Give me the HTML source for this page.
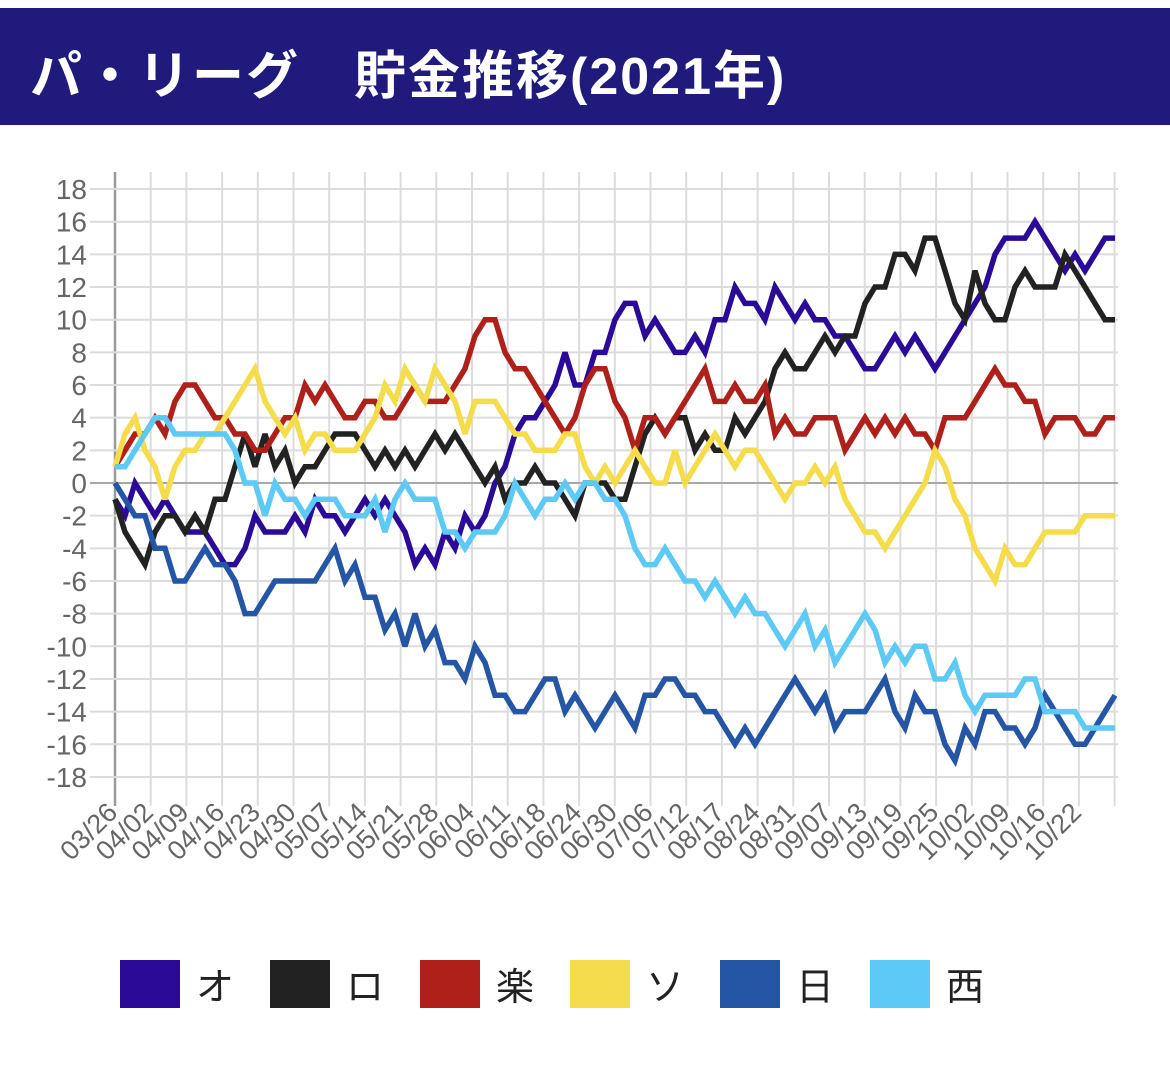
<!DOCTYPE html>
<html><head><meta charset="utf-8">
<style>
body{margin:0;width:1170px;height:1065px;background:#fff;overflow:hidden;font-family:"Liberation Sans","Noto Sans CJK JP",sans-serif}
#hdr{position:absolute;left:0;top:8px;width:1170px;height:117px;background:#201a7c}
#hdr h1{margin:0;position:absolute;left:30px;top:26px;color:#fff;font-size:52px;font-weight:bold;letter-spacing:2px;white-space:nowrap;font-family:"Liberation Sans","Noto Sans CJK JP",sans-serif}
svg{position:absolute;left:0;top:0}
</style></head><body>
<div id="hdr"><h1>パ・リーグ　貯金推移(2021年)</h1></div>
<svg id="c" width="1170" height="1065"></svg>
<script>
const yTicks=[18,16,14,12,10,8,6,4,2,0,-2,-4,-6,-8,-10,-12,-14,-16,-18];
const dateLabels=["03/26","04/02","04/09","04/16","04/23","04/30","05/07","05/14","05/21","05/28","06/04","06/11","06/18","06/24","06/30","07/06","07/12","08/17","08/24","08/31","09/07","09/13","09/19","09/25","10/02","10/09","10/16","10/22"];
const teams=["オ","ロ","楽","ソ","日","西"];
const colors=["#2b0a97","#222222","#b0201a","#f5dc4a","#2555a5","#5ccaf5"];
const orix=[-1,-2,0,-1,-2,-1,-2,-3,-3,-3,-4,-5,-5,-4,-2,-3,-3,-3,-2,-3,-1,-2,-2,-3,-2,-1,-2,-1,-2,-3,-5,-4,-5,
-3,-4,-2,-3,-2,0,1,3,4,4,5,6,8,6,6,8,8,10,11,11,9,10,9,8,8,9,8,10,10,12,11,11,10,12,
11,10,11,10,10,9,9,8,7,7,8,9,8,9,8,7,8,9,10,11,12,14,15,15,15,16,15,14,13,14,13,14,15,15];
const lotte=[-1,-3,-4,-5,-3,-2,-2,-3,-2,-3,-1,-1,1,3,1,3,1,2,0,1,1,2,3,3,3,2,1,2,1,2,1,2,3,
2,3,2,1,0,1,-1,0,0,1,0,0,-1,-2,0,0,0,-1,-1,1,3,4,3,4,4,2,3,2,2,4,3,4,5,7,
8,7,7,8,9,8,9,9,11,12,12,14,14,13,15,15,13,11,10,13,11,10,10,12,13,12,12,12,14,13,12,11,10,10];
const rakuten=[1,2,3,3,4,3,5,6,6,5,4,4,3,3,2,2,3,4,4,6,5,6,5,4,4,5,5,4,4,5,6,5,5,
5,6,7,9,10,10,8,7,7,6,5,4,3,4,6,7,7,5,4,2,4,4,3,4,5,6,7,5,5,6,5,5,6,3,
4,3,3,4,4,4,2,3,4,3,4,3,4,3,3,2,4,4,4,5,6,7,6,6,5,5,3,4,4,4,3,3,4,4];
const softbank=[1,3,4,2,1,-1,1,2,2,3,3,4,5,6,7,5,4,3,4,2,3,3,2,2,2,3,4,6,5,7,6,5,7,
6,5,3,5,5,5,4,3,3,2,2,2,3,3,1,0,1,0,1,2,1,0,0,2,0,1,2,3,2,1,2,2,1,0,
-1,0,0,1,0,1,-1,-2,-3,-3,-4,-3,-2,-1,0,2,1,-1,-2,-4,-5,-6,-4,-5,-5,-4,-3,-3,-3,-3,-2,-2,-2,-2];
const nipponham=[0,-1,-2,-2,-4,-4,-6,-6,-5,-4,-5,-5,-6,-8,-8,-7,-6,-6,-6,-6,-6,-5,-4,-6,-5,-7,-7,-9,-8,-10,-8,-10,-9,
-11,-11,-12,-10,-11,-13,-13,-14,-14,-13,-12,-12,-14,-13,-14,-15,-14,-13,-14,-15,-13,-13,-12,-12,-13,-13,-14,-14,-15,-16,-15,-16,-15,-14,
-13,-12,-13,-14,-13,-15,-14,-14,-14,-13,-12,-14,-15,-13,-14,-14,-16,-17,-15,-16,-14,-14,-15,-15,-16,-15,-13,-14,-15,-16,-16,-15,-14,-13];
const seibu=[1,1,2,3,4,4,3,3,3,3,3,3,2,0,0,-2,0,-1,-1,-2,-1,-1,-1,-2,-2,-2,-1,-3,-1,0,-1,-1,-1,
-3,-3,-4,-3,-3,-3,-2,0,-1,-2,-1,-1,0,-1,0,0,-1,-1,-2,-4,-5,-5,-4,-5,-6,-6,-7,-6,-7,-8,-7,-8,-8,-9,
-10,-9,-8,-10,-9,-11,-10,-9,-8,-9,-11,-10,-11,-10,-10,-12,-12,-11,-13,-14,-13,-13,-13,-13,-12,-12,-14,-14,-14,-14,-15,-15,-15,-15];
const series=[orix,lotte,rakuten,softbank,nipponham,seibu];

const NS="http://www.w3.org/2000/svg";
const svg=document.getElementById('c');
const X0=115,X1=1115,Y0=483,UNIT=16.33;
const nPts=orix.length;
function xScale(i){return X0+i*(X1-X0)/(nPts-1);}
function yScale(v){return Y0-v*UNIT;}
const TICKSTEP=35.7;
function mk(tag,attrs){const e=document.createElementNS(NS,tag);for(const k in attrs)e.setAttribute(k,attrs[k]);svg.appendChild(e);return e;}

for(let i=0;i<=28;i++){
  const x=X0+i*TICKSTEP;
  const g=mk('line',{x1:x,x2:x,y1:172,y2:806,stroke:i===0?'#9a9a9a':'#dcdcdc','stroke-width':i===0?2.5:2});
  
  
}
yTicks.forEach(v=>{
  const y=yScale(v);
  const l=mk('line',{x1:90,x2:1118,y1:y,y2:y,stroke:v===0?'#a8a8a8':'#dcdcdc','stroke-width':2});
  
  
  const t=mk('text',{x:87,y:y+10,'text-anchor':'end','font-size':28,fill:'#666','font-family':'Liberation Sans, sans-serif'});
  t.textContent=v;
  
  
});
dateLabels.forEach((d,i)=>{
  const x=X0+i*TICKSTEP+4,y=814;
  const t=mk('text',{x:x,y:y,'text-anchor':'end','font-size':27,fill:'#666','font-family':'Liberation Sans, sans-serif',transform:`rotate(-45 ${x} ${y})`});
  t.textContent=d;
  
  
});
series.forEach((s,k)=>{
  const pts=s.map((v,i)=>xScale(i).toFixed(1)+','+yScale(v).toFixed(1)).join(' ');
  const p=mk('polyline',{points:pts,fill:'none',stroke:colors[k],'stroke-width':5.5,'stroke-linejoin':'miter','stroke-miterlimit':3});
  
  
});
teams.forEach((tm,k)=>{
  const x=120+k*150;
  const r=mk('rect',{x:x,y:960,width:60,height:48,fill:colors[k]});
  
  
  const t=mk('text',{x:x+76,y:1000,'font-size':38,fill:'#222','font-family':'Liberation Sans, Noto Sans CJK JP, sans-serif'});
  t.textContent=tm;
  
  
});
</script>
</body></html>
